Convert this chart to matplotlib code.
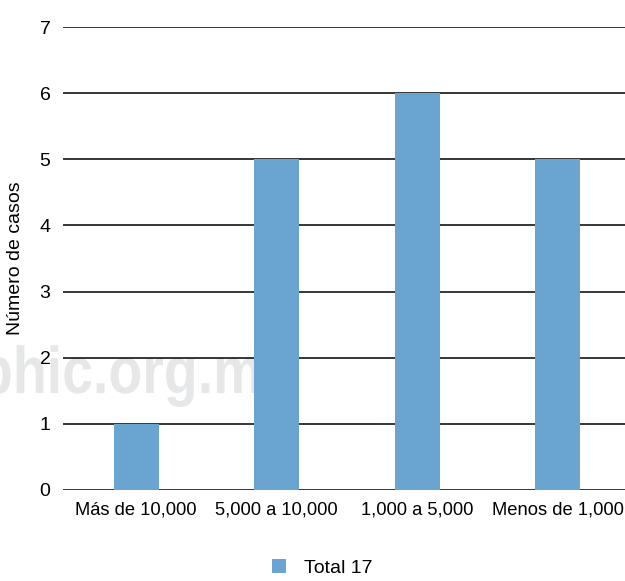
import matplotlib
matplotlib.use("Agg")
import matplotlib.pyplot as plt
from matplotlib.patches import Patch, PathPatch
from matplotlib.textpath import TextPath
from matplotlib.font_manager import FontProperties
from matplotlib.transforms import Affine2D, IdentityTransform

categories = ["Más de 10,000", "5,000 a 10,000", "1,000 a 5,000", "Menos de 1,000"]
casos = [1, 5, 6, 5]
y_ticks = [0, 1, 2, 3, 4, 5, 6, 7]
serie = "Total 17"

bar_color = "#69a5d0"
plt.rcParams["font.family"] = ["Liberation Sans", "DejaVu Sans"]

fig = plt.figure(figsize=(6.25, 5.81), dpi=100)
ax = fig.add_axes([63 / 625, 1 - 490 / 581, 1 - 63 / 625, 463 / 581])
ax.set_facecolor("none")

# faint site watermark behind the plot, slightly condensed
wm_path = TextPath((0, 0), "phic.org.m", size=66,
                   prop=FontProperties(family="Liberation Sans", weight="bold"))
wm = PathPatch(wm_path, facecolor="#e6e7e8", edgecolor="none", zorder=-1,
               transform=Affine2D().scale(0.84, 1.0).translate(-21, 188) + IdentityTransform())
fig.add_artist(wm)

x = list(range(len(categories)))
ax.bar(x, casos, width=0.32, color=bar_color, zorder=3)

ax.set_xlim(-0.52, 3.48)
ax.set_ylim(0, 7)
ax.set_yticks(y_ticks)
ax.set_xticks(x)
ax.set_xticklabels(categories)
ax.yaxis.grid(True, color="black", linewidth=1.1, zorder=2)
ax.set_axisbelow(False)
for s in ax.spines.values():
    s.set_visible(False)
ax.tick_params(axis="both", length=0, labelsize=14, colors="black")
ax.tick_params(axis="x", labelsize=13.2, pad=8)
ax.tick_params(axis="y", pad=9)
ax.set_ylabel("Número de casos", fontsize=14, labelpad=11)

fig.legend(handles=[Patch(facecolor=bar_color, label=serie)],
           loc="center", bbox_to_anchor=(0.515, 1 - 568 / 581), frameon=False,
           fontsize=14, handlelength=0.75, handleheight=0.75, handletextpad=0.9)

fig.savefig("out.png", dpi=100)
